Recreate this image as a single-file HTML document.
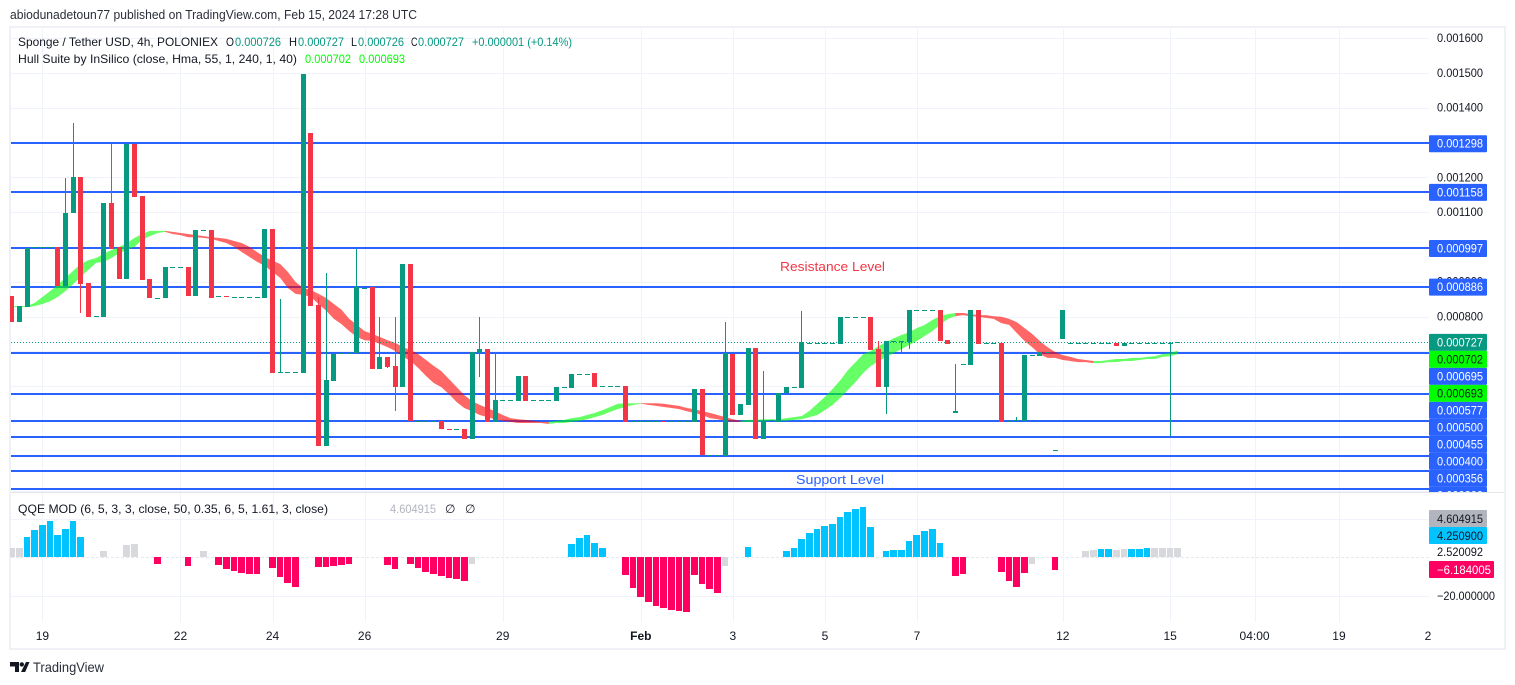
<!DOCTYPE html>
<html lang="en">
<head>
<meta charset="utf-8">
<title>Sponge / Tether USD chart</title>
<style>
html,body{margin:0;padding:0;background:#fff;width:1515px;height:685px;overflow:hidden}
svg{display:block;font-family:"Liberation Sans","DejaVu Sans",sans-serif;font-size:12px}
</style>
</head>
<body>
<svg id="chart" xmlns="http://www.w3.org/2000/svg" width="1515" height="685" viewBox="0 0 1515 685">
  <defs>
    <clipPath id="mainClip"><rect x="10" y="28" width="1493" height="464"/></clipPath>
    <clipPath id="qqeClip"><rect x="10" y="493" width="1419" height="130"/></clipPath>
  </defs>
  <rect x="0" y="0" width="1515" height="685" fill="#ffffff"/>
  <text x="10" y="19" font-size="12.5" fill="#2a2e39" textLength="407" lengthAdjust="spacingAndGlyphs">abiodunadetoun77 published on TradingView.com, Feb 15, 2024 17:28 UTC</text>
  <rect x="10" y="27" width="1495" height="622" fill="none" stroke="#eff1f6" stroke-width="2"/>
  <g id="grid"></g>
  <g id="levels" clip-path="url(#mainClip)"></g>
  <g id="band" clip-path="url(#mainClip)"></g>
  <line x1="11" x2="1429" y1="342.5" y2="342.5" stroke="#089981" stroke-width="1" stroke-dasharray="1 2"/>
  <g id="candles" clip-path="url(#mainClip)" shape-rendering="crispEdges"></g>
  <g id="qqe" clip-path="url(#qqeClip)" shape-rendering="crispEdges"></g>
  <line x1="11" x2="1504" y1="492.5" y2="492.5" stroke="#e4e6ec" stroke-width="1"/>
  <g id="priceAxis" clip-path="url(#mainClip)"></g>

  <text x="18" y="46" fill="#131722" textLength="200" lengthAdjust="spacingAndGlyphs">Sponge / Tether USD, 4h, POLONIEX</text>
  <text x="226" y="46" fill="#131722" textLength="8" lengthAdjust="spacingAndGlyphs">O</text>
  <text x="235" y="46" fill="#089981" textLength="46" lengthAdjust="spacingAndGlyphs">0.000726</text>
  <text x="289" y="46" fill="#131722" textLength="8" lengthAdjust="spacingAndGlyphs">H</text>
  <text x="298" y="46" fill="#089981" textLength="46" lengthAdjust="spacingAndGlyphs">0.000727</text>
  <text x="351" y="46" fill="#131722" textLength="6" lengthAdjust="spacingAndGlyphs">L</text>
  <text x="358" y="46" fill="#089981" textLength="46" lengthAdjust="spacingAndGlyphs">0.000726</text>
  <text x="411" y="46" fill="#131722" textLength="6.5" lengthAdjust="spacingAndGlyphs">C</text>
  <text x="418" y="46" fill="#089981" textLength="46" lengthAdjust="spacingAndGlyphs">0.000727</text>
  <text x="472" y="46" fill="#089981" textLength="100" lengthAdjust="spacingAndGlyphs">+0.000001 (+0.14%)</text>
  <text x="18" y="63" fill="#131722" textLength="279" lengthAdjust="spacingAndGlyphs">Hull Suite by InSilico (close, Hma, 55, 1, 240, 1, 40)</text>
  <text x="305" y="63" fill="#00ff00" textLength="46" lengthAdjust="spacingAndGlyphs">0.000702</text>
  <text x="359" y="63" fill="#00ff00" textLength="46" lengthAdjust="spacingAndGlyphs">0.000693</text>

  <text x="780" y="271" font-size="13" fill="#f23645" textLength="105" lengthAdjust="spacingAndGlyphs">Resistance Level</text>
  <text x="796" y="484" font-size="13" fill="#2962ff" textLength="88" lengthAdjust="spacingAndGlyphs">Support Level</text>

  <text x="18" y="513" fill="#131722" textLength="310" lengthAdjust="spacingAndGlyphs">QQE MOD (6, 5, 3, 3, close, 50, 0.35, 6, 5, 1.61, 3, close)</text>
  <text x="390" y="513" fill="#b2b5be" textLength="46" lengthAdjust="spacingAndGlyphs">4.604915</text>
  <text x="445" y="513" fill="#131722">∅</text>
  <text x="465" y="513" fill="#131722">∅</text>

  <rect x="1429" y="510" width="58" height="17" rx="1" fill="#b2b5be"/>
  <text x="1437" y="523" fill="#131722" textLength="46" lengthAdjust="spacingAndGlyphs">4.604915</text>
  <rect x="1429" y="527" width="58" height="17" rx="1" fill="#00c3ff"/>
  <text x="1437" y="540" fill="#131722" textLength="46" lengthAdjust="spacingAndGlyphs">4.250900</text>
  <text x="1437" y="556" fill="#131722" textLength="46" lengthAdjust="spacingAndGlyphs">2.520092</text>
  <rect x="1429" y="561" width="65" height="17" rx="1" fill="#ff0062"/>
  <text x="1437" y="574" fill="#ffffff" textLength="54" lengthAdjust="spacingAndGlyphs">−6.184005</text>
  <text x="1437" y="600" fill="#131722" textLength="58" lengthAdjust="spacingAndGlyphs">−20.000000</text>

  <g id="timeAxis"></g>

  <g fill="#131722">
    <polygon points="10,662 19,662 19,672 15,672 15,666.5 10,666.5"/>
    <circle cx="21.8" cy="664.4" r="2.2"/>
    <polygon points="26,662 29.5,662 25.2,672 21,672"/>
    <text x="33" y="672" font-size="14" fill="#2a2e39" textLength="71" lengthAdjust="spacingAndGlyphs">TradingView</text>
  </g>
</svg>
<script>
// Prices are in millionths of USDT (726 = 0.000726)
const opens=[859,784,827,1000,1000,1000,1000,888,1096,1201,
896,802,799,1126,1000,908,1296,1146,908,853,
853,942,942,942,859,1049,1049,858,858,856,
856,856,856,853,1051,640,640,640,638,1327,
833,428,615,695,695,695,882,885,649,684,
658,597,951,500,500,500,500,478,477,477,
448,695,707,497,560,560,557,629,560,560,
560,557,597,595,635,636,638,600,600,600,
600,500,500,500,500,501,500,500,500,497,
592,402,402,399,692,517,546,709,448,503,
497,580,597,595,724,724,724,724,721,799,
799,799,799,707,597,730,730,727,819,819,
819,819,732,523,663,661,819,724,724,724,
500,503,500,689,686,698,416,735,724,724,
724,724,724,724,724,715,724,724,724,724,
724,724,726];
const closes=[784,830,997,1000,1000,1000,888,1097,1201,893,
799,802,1126,994,908,1296,1143,905,853,853,
942,942,942,859,1049,1049,853,858,857,856,
856,856,856,1051,638,640,640,640,1497,830,
428,617,692,695,695,885,882,649,684,655,
597,951,500,500,500,500,477,477,477,448,
698,707,497,560,560,560,629,557,560,560,
560,597,597,635,635,636,597,600,600,600,
497,500,500,500,500,500,500,500,500,592,
402,402,402,695,517,549,709,448,500,503,
580,597,597,727,724,724,724,724,799,799,
799,799,704,597,730,730,730,819,819,819,
819,730,721,528,663,819,721,724,724,497,
500,503,689,689,698,698,416,819,724,724,
724,724,724,724,715,724,724,724,724,724,
724,724,727];
const highs=[859,830,997,1000,1000,1000,1000,1198,1356,1201,
896,802,1126,1296,1000,1296,1296,1146,908,853,
942,942,942,942,1049,1049,1049,858,858,856,
856,856,856,1051,1051,850,640,640,1497,1327,
856,925,692,695,695,994,882,885,799,684,
799,951,951,500,500,500,500,478,477,477,
698,799,707,698,560,560,629,629,560,560,
560,597,597,635,635,636,638,600,600,600,
600,500,500,500,500,501,500,500,500,592,
592,402,402,784,692,549,709,709,643,503,
580,597,597,816,724,724,724,724,799,799,
799,799,799,730,730,730,730,819,819,819,
819,819,732,663,663,819,819,724,724,724,
500,510,689,689,698,698,416,819,724,724,
724,724,724,724,724,724,724,724,724,724,
724,727,727];
const lows=[784,784,827,1000,1000,1000,888,888,1096,811,
799,802,799,994,908,908,1143,905,853,853,
853,942,942,859,859,1049,853,858,857,856,
856,856,856,853,638,640,640,640,638,830,
428,428,615,695,695,695,882,649,649,652,
528,597,500,500,500,500,477,477,477,448,
448,626,497,497,560,560,557,557,560,560,
560,557,597,595,635,636,597,600,600,600,
497,500,500,500,500,500,500,500,500,497,
402,402,402,399,517,517,546,448,448,503,
497,580,597,595,724,724,724,724,721,799,
799,799,704,597,520,730,695,707,819,819,
819,730,721,523,663,661,721,724,724,497,
500,503,500,689,686,698,416,735,724,724,
724,724,724,724,715,715,724,724,724,724,
724,457,726];
const hullUpper=[830,830,830,839,856,873,891,911,931,951,
962,968,980,991,1000,1011,1026,1037,1046,1046,
1046,1043,1040,1037,1034,1031,1028,1026,1023,1017,
1011,1000,985,971,960,951,928,899,882,876,
865,853,836,819,793,776,758,750,741,732,
724,712,704,692,675,658,643,620,597,574,
557,546,537,528,517,508,505,503,500,497,
497,500,503,508,511,517,523,531,540,549,
551,551,551,551,551,549,546,543,537,534,
528,523,517,511,505,500,503,503,505,505,
505,508,511,514,529,549,569,592,617,646,
669,692,701,715,727,738,747,755,767,776,
790,801,807,810,810,807,804,804,801,799,
793,784,767,750,730,712,698,689,684,678,
675,672,672,675,678,678,681,681,684,686,
692,695,702];
const hullLower=[827,827,827,830,836,844,856,873,893,914,
934,954,957,968,982,991,1000,1020,1031,1040,
1043,1037,1034,1028,1028,1026,1023,1017,1011,1000,
985,971,957,945,928,911,882,865,862,856,
836,816,793,778,758,741,732,730,721,712,
701,684,672,652,629,609,597,577,554,537,
528,517,511,505,500,497,494,494,494,494,
491,494,494,497,500,505,511,517,526,534,
540,546,549,546,543,540,537,534,528,523,
517,508,505,500,497,497,497,497,500,500,
500,500,503,505,511,517,531,546,566,589,
612,638,658,672,684,695,707,718,730,744,
758,776,793,801,804,801,799,796,793,781,
776,753,730,712,692,681,681,675,672,669,
669,666,666,669,669,672,672,675,678,678,
684,686,692];
const hullTurns=[20,70,82,95,123,141];
// QQE histogram values by bar index; null means no visible bar
const qqeValues=[4.8,4.8,10.5,14.2,16.8,18.8,11.6,14.7,18.8,10.5,
null,null,3.3,null,null,6.4,6.9,null,null,-3.5,
null,null,null,-4.5,null,3.3,null,-4,-6,-7.1,
-8.1,-8.6,-8.6,null,-5.5,-10.2,-13.3,-15.4,null,null,
-5,-5,-4.5,-4,-3.5,null,null,null,null,-4,
-6,null,-3.5,-5.5,-7.6,-8.6,-9.7,-10.7,-11.2,-12.3,
-3.5,null,null,null,null,null,null,null,null,null,
null,null,null,6.9,10,11.6,7.4,4.8,null,null,
-9.2,-15.9,-20.6,-23.2,-25.2,-26.3,-27.3,-27.8,-28.3,-9.2,
-13.8,-16.4,-18.5,-4.5,null,null,5.3,null,null,null,
null,3.3,4.8,9.5,12.6,14.7,16.2,17.3,20.9,23.5,
25,26.1,15.7,null,3.3,3.8,3.8,8.4,11.6,13.6,
14.7,7.4,null,-9.7,-8.6,null,null,null,null,-7.6,
-12.3,-15.4,-8.1,-3.5,null,null,-6.6,null,null,null,
3.3,3.8,4.3,4.3,3.8,4.3,4.3,4.3,4.8,4.8,
4.8,4.8,4.6];
const qqeNeutralBars=[0,1,12,15,16,25,60,93,133,140,141,144,145,149,150,151,152];
const priceTickValues=[1600,1500,1400,1300,1200,1100,1000,900,800,700,600,500,400,300];
const priceTickLabels=["0.001600","0.001500","0.001400","","0.001200","0.001100","","0.000900","0.000800","","","","",""];
const levelPrices=[1298,1158,997,886,695,577,500,455,400,356,305];
const tagPrices=[1298,1158,997,886,727,702,695,693,577,500,455,400,356,300];
const tagLabels=["0.001298","0.001158","0.000997","0.000886","0.000727","0.000702","0.000695","0.000693","0.000577","0.000500","0.000455","0.000400","0.000356","0.000300"];
const tagKinds=["level","level","level","level","last","hull","level","hull","level","level","level","level","level","level"];
const timeTickBars=[4,22,34,46,64,82,94,106,118,137,151,162,173];
const timeTickLabels=["19","22","24","26","29","Feb","3","5","7","12","15","04:00","19"];
const timeEdgeBar=184.6;
const timeEdgeLabel="2";
const qqeGridValues=[20,-20];

const NS="http://www.w3.org/2000/svg";
function xOf(i){return 11.7+7.672*i;}
function yOf(p){return 316.5+(800-p)*0.348;}
function qY(v){return 557.3-v*1.93;}
function mk(tag,attrs,parent,text){
  const e=document.createElementNS(NS,tag);
  for(const k in attrs)e.setAttribute(k,attrs[k]);
  if(text!==undefined)e.textContent=text;
  parent.appendChild(e);
  return e;
}
const gridG=document.getElementById('grid');
priceTickValues.forEach(function(p){
  const l=mk('line',{x1:11,x2:1429,y1:Math.round(yOf(p))+0.5,y2:Math.round(yOf(p))+0.5,stroke:'#f0f3fa','stroke-width':1},gridG);
  
  
});
qqeGridValues.forEach(function(v){
  const l=mk('line',{x1:11,x2:1429,y1:Math.round(qY(v))+0.5,y2:Math.round(qY(v))+0.5,stroke:'#f0f3fa','stroke-width':1},gridG);
  
  
});
const zeroLine=mk('line',{x1:11,x2:1429,y1:557.5,y2:557.5,stroke:'#e6e8ee','stroke-width':1,'stroke-dasharray':'3 2'},gridG);


const timeG=document.getElementById('timeAxis');
timeTickBars.forEach(function(b,i){
  const x=Math.round(xOf(b))+0.5;
  const l=mk('line',{x1:x,x2:x,y1:29,y2:622,stroke:'#f0f3fa','stroke-width':1},gridG);
  
  
  const isMonth=timeTickLabels[i]==='Feb';
  const t=mk('text',{x:xOf(b),y:640,'text-anchor':'middle',fill:'#131722','font-weight':isMonth?'700':'400'},timeG,timeTickLabels[i]);
  
  
});
const edgeTick=mk('text',{x:xOf(timeEdgeBar),y:640,'text-anchor':'middle',fill:'#131722'},timeG,timeEdgeLabel);



const levelsG=document.getElementById('levels');
levelPrices.forEach(function(p){
  const y=Math.round(yOf(p));
  const l=mk('line',{x1:11,x2:1429,y1:y,y2:y,stroke:'#2962ff','stroke-width':2},levelsG);
  
  
});

const bandG=document.getElementById('band');
let bandStart=0,bandUp=true;
hullTurns.concat([hullUpper.length-1]).forEach(function(end){
  const pts=[];
  for(let i=bandStart;i<=end;i++)pts.push(xOf(i).toFixed(1)+','+yOf(hullUpper[i]).toFixed(1));
  for(let i=end;i>=bandStart;i--)pts.push(xOf(i).toFixed(1)+','+yOf(hullLower[i]).toFixed(1));
  const poly=mk('polygon',{points:pts.join(' '),fill:bandUp?'rgba(0,255,0,0.6)':'rgba(255,0,0,0.6)'},bandG);
  
  
  bandStart=end;
  bandUp=!bandUp;
});

const candleG=document.getElementById('candles');
opens.forEach(function(o,i){
  const c=closes[i],up=c>=o,col=up?'#089981':'#f23645';
  const left=Math.round(xOf(i)-2.5);
  const yHigh=Math.round(yOf(highs[i])),yLow=Math.round(yOf(lows[i]));
  const yTop=Math.round(yOf(Math.max(o,c))),yBot=Math.round(yOf(Math.min(o,c)));
  if(yLow>yHigh){
    const w=mk('rect',{x:left+2,y:yHigh,width:1,height:yLow-yHigh,fill:col},candleG);
    
    
  }
  const b=mk('rect',{x:left,y:yTop,width:5,height:Math.max(1,yBot-yTop),fill:col},candleG);
  
  
});

const qqeG=document.getElementById('qqe');
qqeValues.forEach(function(v,i){
  if(v===null)return;
  const neutral=qqeNeutralBars.indexOf(i)>=0;
  const col=neutral?'#d8d9dd':(v>0?'#00c3ff':'#ff0062');
  const y0=qY(0),y1=qY(v);
  const left=Math.round(xOf(i)-3.5);
  const right=Math.round(xOf(i+1)-3.5)-1;
  const r=mk('rect',{x:left,y:Math.round(Math.min(y0,y1)),width:right-left,height:Math.round(Math.abs(y1-y0)),fill:col},qqeG);
  
  
});

const axisG=document.getElementById('priceAxis');
priceTickValues.forEach(function(p,i){
  if(!priceTickLabels[i])return;
  const t=mk('text',{x:1437,y:yOf(p)+4,fill:'#131722',textLength:46,lengthAdjust:'spacingAndGlyphs'},axisG,priceTickLabels[i]);
  
  
});
let prevCenter=-100;
tagPrices.forEach(function(p,i){
  const center=Math.max(yOf(p)+0.5,prevCenter+17);
  prevCenter=center;
  const kind=tagKinds[i];
  const bg=kind==='level'?'#2962ff':(kind==='last'?'#089981':'#00ff00');
  const fg=kind==='hull'?'#131722':'#ffffff';
  const r=mk('rect',{x:1429,y:center-8.5,width:58,height:17,rx:1,fill:bg},axisG);
  
  
  const t=mk('text',{x:1437,y:center+4,fill:fg,textLength:46,lengthAdjust:'spacingAndGlyphs'},axisG,tagLabels[i]);
  
  
});
</script>
</body>
</html>
